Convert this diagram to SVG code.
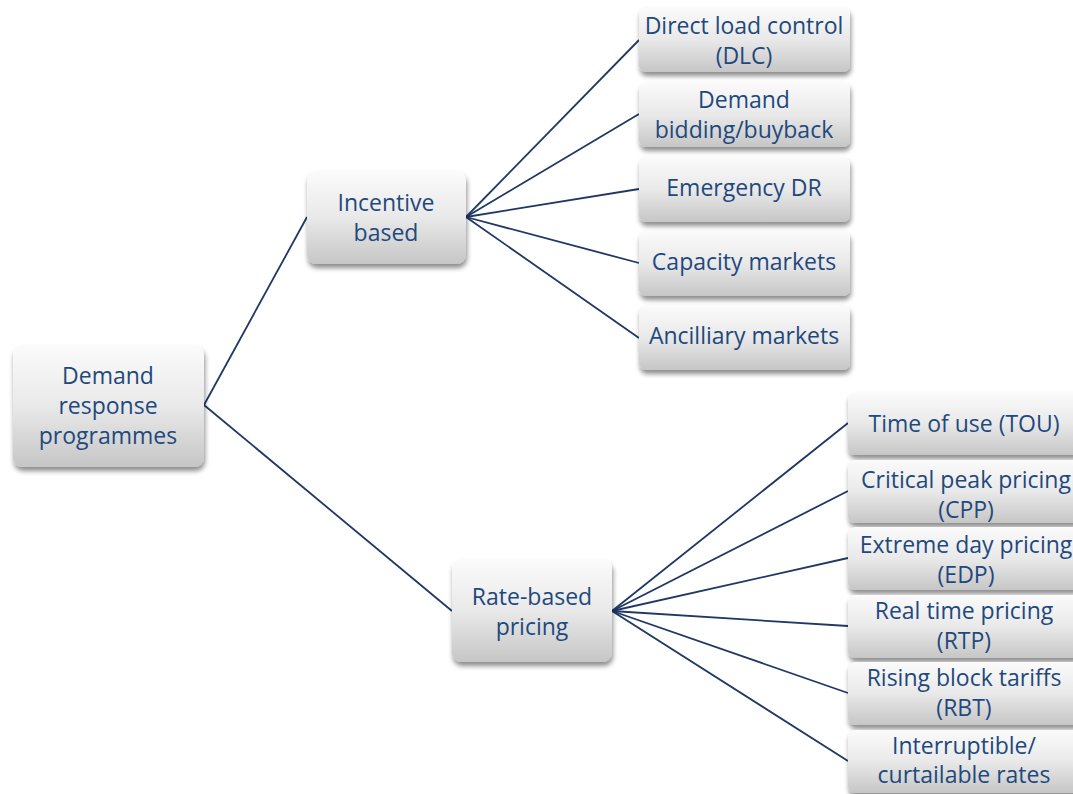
<svg xmlns="http://www.w3.org/2000/svg" width="1073" height="794" viewBox="0 0 1073 794">
  <defs>
    <linearGradient id="boxFill" x1="0" y1="0" x2="0" y2="1">
      <stop offset="0" stop-color="#fbfbfb"/>
      <stop offset="0.5" stop-color="#e9e9e9"/>
      <stop offset="1" stop-color="#c6c6c6"/>
    </linearGradient>
    <filter id="shadow" x="-20%" y="-20%" width="140%" height="150%">
      <feGaussianBlur in="SourceAlpha" stdDeviation="2.5"/>
      <feOffset dx="1" dy="4" result="blur"/>
      <feComponentTransfer><feFuncA type="linear" slope="0.45"/></feComponentTransfer>
      <feMerge><feMergeNode/><feMergeNode in="SourceGraphic"/></feMerge>
    </filter>
  </defs>
  <style>
    .box { fill: url(#boxFill); filter: url(#shadow); }
    .lbl { font-family: "Open Sans", "Liberation Sans", sans-serif; font-size: 23px; fill: #1f497d; text-anchor: middle; dominant-baseline: central; }
    .edge { stroke: #1f3864; stroke-width: 1.8; fill: none; }
  </style>
  <rect width="1073" height="794" fill="#ffffff"/>

  <g id="connectors">
    <line class="edge" x1="204" y1="405" x2="307" y2="217"/>
    <line class="edge" x1="204" y1="405" x2="452" y2="611"/>
    <line class="edge" x1="466" y1="217" x2="639" y2="40"/>
    <line class="edge" x1="466" y1="217" x2="639" y2="114"/>
    <line class="edge" x1="466" y1="217" x2="639" y2="189"/>
    <line class="edge" x1="466" y1="217" x2="639" y2="263"/>
    <line class="edge" x1="466" y1="217" x2="639" y2="338"/>
    <line class="edge" x1="612" y1="611" x2="848" y2="423"/>
    <line class="edge" x1="612" y1="611" x2="848" y2="491"/>
    <line class="edge" x1="612" y1="611" x2="848" y2="558"/>
    <line class="edge" x1="612" y1="611" x2="848" y2="626"/>
    <line class="edge" x1="612" y1="611" x2="848" y2="693"/>
    <line class="edge" x1="612" y1="611" x2="848" y2="761"/>
  </g>

  <g id="root">
    <rect class="box" x="13" y="345" width="191" height="122" rx="9"/>
    <text class="lbl" x="108" y="375">Demand</text>
    <text class="lbl" x="108" y="405">response</text>
    <text class="lbl" x="108" y="435">programmes</text>
  </g>

  <g id="incentive">
    <rect class="box" x="307" y="171" width="159" height="93" rx="9"/>
    <text class="lbl" x="386" y="202">Incentive</text>
    <text class="lbl" x="386" y="232">based</text>
  </g>

  <g id="rate">
    <rect class="box" x="452" y="559" width="160" height="103" rx="9"/>
    <text class="lbl" x="532" y="596">Rate-based</text>
    <text class="lbl" x="532" y="626">pricing</text>
  </g>

  <g id="dlc">
    <rect class="box" x="639" y="7" width="211" height="65" rx="7"/>
    <text class="lbl" x="744" y="25">Direct load control</text>
    <text class="lbl" x="744" y="55">(DLC)</text>
  </g>
  <g id="bidding">
    <rect class="box" x="639" y="82" width="211" height="65" rx="7"/>
    <text class="lbl" x="744" y="99">Demand</text>
    <text class="lbl" x="744" y="129">bidding/buyback</text>
  </g>
  <g id="emergency">
    <rect class="box" x="639" y="157" width="211" height="65" rx="7"/>
    <text class="lbl" x="744" y="187">Emergency DR</text>
  </g>
  <g id="capacity">
    <rect class="box" x="639" y="231" width="211" height="65" rx="7"/>
    <text class="lbl" x="744" y="261">Capacity markets</text>
  </g>
  <g id="ancillary">
    <rect class="box" x="639" y="305" width="211" height="65" rx="7"/>
    <text class="lbl" x="744" y="335">Ancilliary markets</text>
  </g>

  <g id="tou">
    <rect class="box" x="848" y="392" width="234" height="63" rx="7"/>
    <text class="lbl" x="964" y="423">Time of use (TOU)</text>
  </g>
  <g id="cpp">
    <rect class="box" x="848" y="460" width="234" height="63" rx="7"/>
    <text class="lbl" x="966" y="479">Critical peak pricing</text>
    <text class="lbl" x="966" y="509">(CPP)</text>
  </g>
  <g id="edp">
    <rect class="box" x="848" y="527" width="234" height="63" rx="7"/>
    <text class="lbl" x="966" y="544">Extreme day pricing</text>
    <text class="lbl" x="966" y="574">(EDP)</text>
  </g>
  <g id="rtp">
    <rect class="box" x="848" y="595" width="234" height="63" rx="7"/>
    <text class="lbl" x="964" y="610">Real time pricing</text>
    <text class="lbl" x="964" y="640">(RTP)</text>
  </g>
  <g id="rbt">
    <rect class="box" x="848" y="662" width="234" height="63" rx="7"/>
    <text class="lbl" x="964" y="677">Rising block tariffs</text>
    <text class="lbl" x="964" y="707">(RBT)</text>
  </g>
  <g id="interruptible">
    <rect class="box" x="848" y="730" width="234" height="63" rx="7"/>
    <text class="lbl" x="964" y="745">Interruptible/</text>
    <text class="lbl" x="964" y="774">curtailable rates</text>
  </g>
</svg>
